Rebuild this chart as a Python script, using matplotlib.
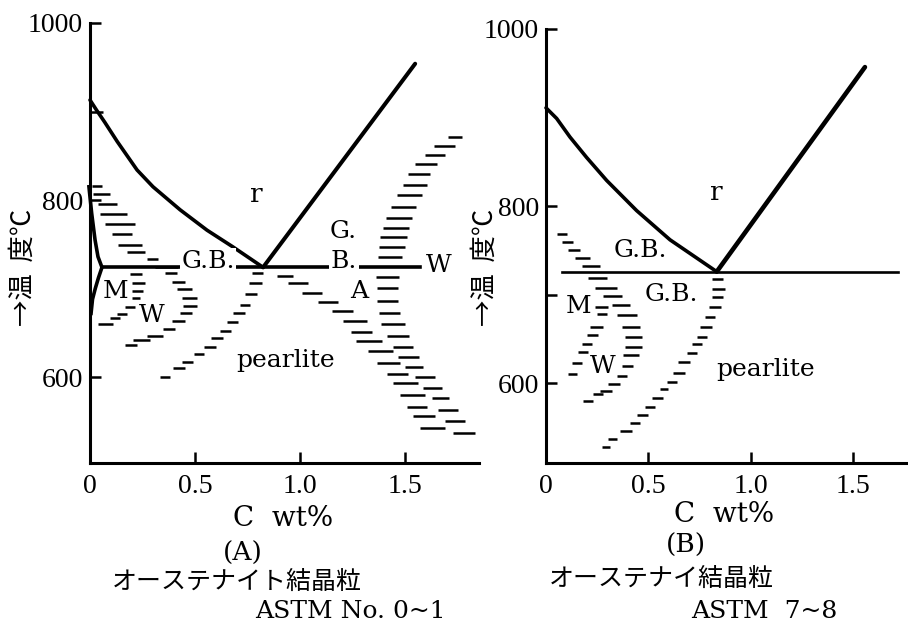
import matplotlib
matplotlib.use('Agg')
import matplotlib.pyplot as plt

# ---------------- data : panel (A) ----------------
a_a3_x = [0.0, 0.03, 0.07, 0.13, 0.224, 0.30, 0.429, 0.557, 0.681, 0.824]
a_a3_T = [913, 902, 888, 866, 834, 815, 789, 766, 747, 724]
a_acm_x = [0.824, 1.548]
a_acm_T = [724, 954]
a_eut_x = [0.057, 1.571]
a_eut_T = [724, 724]
a_fs_x = [-0.005, 0.008, 0.024, 0.038, 0.057, 0.040, 0.025, 0.012, 0.005]
a_fs_T = [815, 785, 755, 736, 724, 712, 700, 688, 672]

a_fer_T = [899, 816, 807, 795, 784, 773, 762, 749, 741, 733, 724]
a_fer_x1 = [0.0, 0.010, 0.014, 0.038, 0.048, 0.071, 0.105, 0.133, 0.176, 0.271, 0.310]
a_fer_x2 = [0.062, 0.057, 0.095, 0.129, 0.176, 0.214, 0.200, 0.248, 0.262, 0.324, 0.419]

a_m_T = [716, 706, 697, 689, 679, 671, 667, 660]
a_m_x1 = [0.190, 0.200, 0.200, 0.200, 0.167, 0.129, 0.095, 0.038]
a_m_x2 = [0.248, 0.262, 0.252, 0.238, 0.214, 0.176, 0.143, 0.110]

a_w_T = [718, 708, 699, 689, 680, 672, 663, 654, 647, 642, 636]
a_w_x1 = [0.357, 0.390, 0.414, 0.438, 0.443, 0.429, 0.390, 0.348, 0.271, 0.205, 0.167]
a_w_x2 = [0.414, 0.452, 0.486, 0.510, 0.510, 0.486, 0.452, 0.405, 0.348, 0.286, 0.224]

a_p_T = [718, 706, 694, 682, 672, 662, 652, 644, 634, 626, 617, 610, 600]
a_p_x1 = [0.771, 0.757, 0.738, 0.714, 0.681, 0.652, 0.619, 0.576, 0.543, 0.495, 0.438, 0.395, 0.333]
a_p_x2 = [0.824, 0.819, 0.795, 0.762, 0.738, 0.705, 0.671, 0.633, 0.600, 0.543, 0.490, 0.452, 0.381]

a_cm_T = [714, 706, 695, 685, 675, 663, 651, 641, 629, 616, 604, 593, 580, 566, 556, 543]
a_cm_x1 = [0.890, 0.943, 1.010, 1.086, 1.152, 1.205, 1.243, 1.267, 1.324, 1.367, 1.414, 1.443, 1.476, 1.510, 1.538, 1.571]
a_cm_x2 = [0.967, 1.038, 1.105, 1.181, 1.252, 1.319, 1.343, 1.390, 1.443, 1.476, 1.514, 1.562, 1.595, 1.605, 1.643, 1.690]

a_h_T = [871, 861, 851, 841, 829, 817, 806, 792, 780, 768, 758, 747, 736,
         713, 701, 686, 672, 660, 646, 634, 623, 611, 600, 588, 576, 563, 550, 537]
a_h_x1 = [1.705, 1.638, 1.595, 1.548, 1.514, 1.490, 1.462, 1.433, 1.410, 1.395, 1.381, 1.376, 1.371,
          1.362, 1.367, 1.367, 1.376, 1.386, 1.414, 1.443, 1.467, 1.500, 1.548, 1.586, 1.629, 1.657, 1.690, 1.729]
a_h_x2 = [1.771, 1.738, 1.690, 1.652, 1.619, 1.605, 1.581, 1.552, 1.533, 1.519, 1.510, 1.500, 1.486,
          1.471, 1.467, 1.467, 1.476, 1.500, 1.519, 1.538, 1.567, 1.586, 1.643, 1.676, 1.710, 1.752, 1.786, 1.833]

# ---------------- data : panel (B) ----------------
b_a3_x = [0.0, 0.052, 0.117, 0.198, 0.296, 0.442, 0.605, 0.833]
b_a3_T = [911, 899, 878, 855, 829, 795, 762, 726]
b_acm_x = [0.833, 1.556]
b_acm_T = [726, 957]
b_eut_x = [0.078, 1.717]
b_eut_T = [726, 726]

b_fer_T = [769, 760, 751, 742, 732, 719, 708, 699, 688, 677, 664, 652, 641, 632, 619, 608, 599, 591, 588, 580]
b_fer_x1 = [0.054, 0.078, 0.107, 0.141, 0.176, 0.205, 0.239, 0.278, 0.322, 0.346, 0.371, 0.385, 0.385,
            0.376, 0.371, 0.346, 0.302, 0.263, 0.229, 0.180]
b_fer_x2 = [0.102, 0.132, 0.166, 0.215, 0.263, 0.298, 0.346, 0.371, 0.410, 0.444, 0.459, 0.468, 0.468,
            0.454, 0.424, 0.395, 0.361, 0.322, 0.278, 0.229]

b_mw_T = [686, 678, 664, 654, 644, 635, 623, 611]
b_mw_x1 = [0.239, 0.249, 0.215, 0.200, 0.176, 0.156, 0.127, 0.107]
b_mw_x2 = [0.302, 0.298, 0.278, 0.254, 0.224, 0.205, 0.176, 0.151]

b_p_T = [718, 706, 697, 686, 675, 663, 652, 644, 634, 624, 612, 602, 593, 583, 573, 564, 555, 546, 537, 528]
b_p_x1 = [0.810, 0.810, 0.810, 0.795, 0.776, 0.751, 0.737, 0.712, 0.688, 0.644, 0.620, 0.590, 0.556,
          0.517, 0.483, 0.444, 0.410, 0.361, 0.302, 0.273]
b_p_x2 = [0.863, 0.873, 0.863, 0.854, 0.824, 0.810, 0.785, 0.761, 0.737, 0.702, 0.678, 0.639, 0.595,
          0.571, 0.532, 0.498, 0.459, 0.420, 0.346, 0.312]

x_ticks = [0, 0.5, 1.0, 1.5]
x_ticklabels = ['0', '0.5', '1.0', '1.5']
a_y_ticks = [600, 800, 1000]
a_y_ticklabels = ['600', '800', '1000']
b_y_ticks = [600, 700, 800, 1000]
b_y_ticklabels = ['600', '', '800', '1000']

ylabel_text = '→温  度℃'
xlabel_text = 'C  wt%'

# ---------------- figure ----------------
W, H = 908, 629
fig = plt.figure(figsize=(W / 100, H / 100), dpi=100)
fig.patch.set_facecolor('white')

LAT = 'DejaVu Serif'
TICKF = 'Liberation Serif'
CJK = ['Noto Sans CJK JP', 'DejaVu Sans']


def px_ax(l, r, b, t):
    return fig.add_axes([l / W, 1 - b / H, (r - l) / W, (b - t) / H])


axA = px_ax(90, 479, 463, 23)
axA.set_xlim(0, 1.852)
axA.set_ylim(503, 1000)
axB = px_ax(546, 908, 463, 29)
axB.set_xlim(0, 1.766)
axB.set_ylim(510, 1000)

tick_font = dict(family=TICKF, size=20)
for ax, yt, ytl in ((axA, a_y_ticks, a_y_ticklabels), (axB, b_y_ticks, b_y_ticklabels)):
    ax.set_facecolor('none')
    for s in ('top', 'right'):
        ax.spines[s].set_visible(False)
    for s in ('left', 'bottom'):
        ax.spines[s].set_linewidth(2.2)
    ax.set_xticks(x_ticks)
    ax.set_xticklabels(x_ticklabels, fontdict=tick_font)
    ax.set_yticks(yt)
    ax.set_yticklabels(ytl, fontdict=tick_font)
    ax.tick_params(direction='in', length=8, width=1.8)
    ax.tick_params(axis='x', pad=8)
    ax.tick_params(axis='y', pad=5)

LW = 2.6
# panel A curves
axA.plot(a_a3_x, a_a3_T, color='k', lw=LW, clip_on=False, solid_capstyle='round')
axA.plot(a_acm_x, a_acm_T, color='k', lw=LW + 0.3, clip_on=False, solid_capstyle='round')
axA.plot(a_eut_x, a_eut_T, color='k', lw=LW, clip_on=False)
axA.plot(a_fs_x, a_fs_T, color='k', lw=LW, clip_on=False)
HL = 1.8
for T, x1, x2 in ((a_fer_T, a_fer_x1, a_fer_x2), (a_m_T, a_m_x1, a_m_x2), (a_w_T, a_w_x1, a_w_x2),
                  (a_p_T, a_p_x1, a_p_x2), (a_cm_T, a_cm_x1, a_cm_x2), (a_h_T, a_h_x1, a_h_x2)):
    axA.hlines(T, x1, x2, colors='k', lw=HL, clip_on=False)

# panel B curves
axB.plot(b_a3_x, b_a3_T, color='k', lw=LW, clip_on=False, solid_capstyle='round')
axB.plot(b_acm_x, b_acm_T, color='k', lw=LW + 0.7, clip_on=False, solid_capstyle='round')
axB.plot(b_eut_x, b_eut_T, color='k', lw=1.9, clip_on=False)
for T, x1, x2 in ((b_fer_T, b_fer_x1, b_fer_x2), (b_mw_T, b_mw_x1, b_mw_x2), (b_p_T, b_p_x1, b_p_x2)):
    axB.hlines(T, x1, x2, colors='k', lw=HL, clip_on=False)

# labels inside panels
FS = 18
wb = dict(facecolor='white', edgecolor='none', pad=1.0)
axA.text(0.79, 806, 'r', family=LAT, fontsize=FS + 1, ha='center', va='center')
axA.text(0.562, 731, 'G.B.', family=LAT, fontsize=FS, ha='center', va='center', bbox=wb, zorder=5)
axA.text(1.205, 764, 'G.', family=LAT, fontsize=FS, ha='center', va='center')
axA.text(1.21, 731, 'B.', family=LAT, fontsize=FS, ha='center', va='center', bbox=wb, zorder=5)
axA.text(1.662, 726, 'W', family=LAT, fontsize=FS, ha='center', va='center')
axA.text(1.28, 697, 'A', family=LAT, fontsize=FS, ha='center', va='center')
axA.text(0.124, 697, 'M', family=LAT, fontsize=FS, ha='center', va='center')
axA.text(0.295, 670, 'W', family=LAT, fontsize=FS, ha='center', va='center')
axA.text(0.93, 619, 'pearlite', family=LAT, fontsize=FS, ha='center', va='center')

axB.text(0.83, 815, 'r', family=LAT, fontsize=FS + 1, ha='center', va='center')
axB.text(0.459, 750, 'G.B.', family=LAT, fontsize=FS, ha='center', va='center')
axB.text(0.61, 700, 'G.B.', family=LAT, fontsize=FS, ha='center', va='center')
axB.text(0.161, 687, 'M', family=LAT, fontsize=FS, ha='center', va='center')
axB.text(0.278, 619, 'W', family=LAT, fontsize=FS, ha='center', va='center')
axB.text(1.07, 616, 'pearlite', family=LAT, fontsize=FS, ha='center', va='center')


def ftext(x, y, s, **kw):
    fig.text(x / W, 1 - y / H, s, **kw)


# y-axis labels
ftext(23, 267, ylabel_text, family=CJK, fontsize=19, rotation=90, ha='center', va='center')
ftext(485, 267, ylabel_text, family=CJK, fontsize=19, rotation=90, ha='center', va='center')

# captions
ftext(283, 519, xlabel_text, family=LAT, fontsize=20, ha='center', va='center')
ftext(243, 553, '(A)', family=LAT, fontsize=19, ha='center', va='center')
ftext(237, 582, 'オーステナイト結晶粒', family=CJK, fontsize=18, ha='center', va='center')
ftext(350, 612, 'ASTM No. 0~1', family=LAT, fontsize=18, ha='center', va='center')

ftext(724, 514, xlabel_text, family=LAT, fontsize=20, ha='center', va='center')
ftext(686, 545, '(B)', family=LAT, fontsize=19, ha='center', va='center')
ftext(661, 579, 'オーステナイ結晶粒', family=CJK, fontsize=18, ha='center', va='center')
ftext(764, 612, 'ASTM  7~8', family=LAT, fontsize=18, ha='center', va='center')

fig.savefig('out.png', dpi=100, facecolor='white')
